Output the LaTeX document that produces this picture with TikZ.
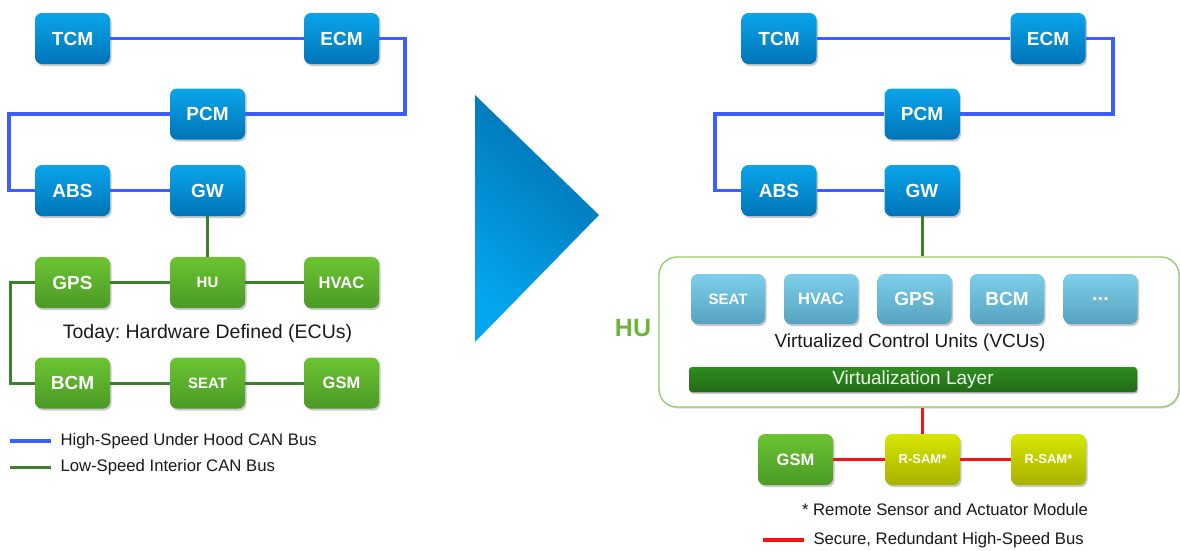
\documentclass[tikz,border=0pt]{standalone}
\usepackage{fontspec}
\setmainfont{Liberation Sans}
\usetikzlibrary{shadows}
\frenchspacing

\definecolor{blueTop}{HTML}{0AA5EA}
\definecolor{blueBot}{HTML}{0074B8}
\definecolor{greenTop}{HTML}{6CC431}
\definecolor{greenBot}{HTML}{4A9A26}
\definecolor{vcuTop}{HTML}{7CCFEA}
\definecolor{vcuBot}{HTML}{57A3C0}
\definecolor{samTop}{HTML}{D8E600}
\definecolor{samBot}{HTML}{A6B200}
\definecolor{layerTop}{HTML}{2F8C20}
\definecolor{layerBot}{HTML}{226A16}
\definecolor{busBlue}{HTML}{3D5EFF}
\definecolor{busGreen}{HTML}{3C7F2C}
\definecolor{busRed}{HTML}{FF1010}
\definecolor{huGreen}{HTML}{6DB43C}
\definecolor{huFrame}{HTML}{92CC6C}
\definecolor{triDark}{HTML}{0070B0}
\definecolor{triLight}{HTML}{04A6EE}

\tikzset{
  unit/.style={rounded corners=7pt, minimum width=75pt, minimum height=51pt,
    inner sep=0pt, text=white, font=\bfseries\fontsize{19}{20}\selectfont,
    drop shadow={shadow xshift=1.5pt, shadow yshift=-2pt, opacity=0.3, fill=black!70}},
  small/.style={font=\bfseries\fontsize{15}{16}\selectfont},
  mid/.style={font=\bfseries\fontsize{16.5}{17}\selectfont},
  tiny/.style={font=\bfseries\fontsize{13}{14}\selectfont},
  ecublue/.style={unit, top color=blueTop, bottom color=blueBot},
  ecugreen/.style={unit, top color=greenTop, bottom color=greenBot},
  vcu/.style={unit, minimum width=74pt, minimum height=50pt, top color=vcuTop, bottom color=vcuBot},
  rsam/.style={unit, tiny, top color=samTop, bottom color=samBot},
  hsbus/.style={draw=busBlue, line width=3.5pt},
  lsbus/.style={draw=busGreen, line width=3pt},
  secbus/.style={draw=busRed, line width=3.5pt},
  caption/.style={font=\fontsize{19.5}{21}\selectfont, text=black!90},
  legend/.style={font=\fontsize{16.7}{18}\selectfont, text=black!90, anchor=west},
}

\begin{document}
\begin{tikzpicture}[x=1pt, y=-1pt]
\useasboundingbox (0,0) rectangle (1180,550);

% ---------------- today: hardware-defined ECUs ----------------
\node[ecublue] (lTCM) at (72.5,38.5) {TCM};
\node[ecublue] (lECM) at (341.5,38.5) {ECM};
\node[ecublue] (lPCM) at (207.5,114) {PCM};
\node[ecublue] (lABS) at (72.5,190.5) {ABS};
\node[ecublue] (lGW)  at (207.5,190.5) {GW};

\node[ecugreen] (lGPS)  at (72.5,282.5) {GPS};
\node[ecugreen, small] (lHU) at (207.5,282.5) {HU};
\node[ecugreen, mid] (lHVAC) at (341.5,282.5) {HVAC};
\node[ecugreen] (lBCM)  at (72.5,383) {BCM};
\node[ecugreen, small] (lSEAT) at (207.5,383) {SEAT};
\node[ecugreen, mid] (lGSM) at (341.5,383) {GSM};

\coordinate (lbusR) at (405,114);
\coordinate (lbusL) at (9,114);
\coordinate (lgL) at (10,282.5);

\draw[hsbus] (lTCM.east) -- (lECM.west);
\draw[hsbus] (lECM.east) -- (lECM.east -| lbusR) -- (lbusR) -- (lPCM.east);
\draw[hsbus] (lPCM.west) -- (lbusL) |- (lABS.west);
\draw[hsbus] (lABS.east) -- (lGW.west);

\draw[lsbus] (lGW.south) -- (lHU.north);
\draw[lsbus] (lGPS.east) -- (lHU.west);
\draw[lsbus] (lHU.east) -- (lHVAC.west);
\draw[lsbus] (lGPS.west) -- (lgL) |- (lBCM.west);
\draw[lsbus] (lBCM.east) -- (lSEAT.west);
\draw[lsbus] (lSEAT.east) -- (lGSM.west);

\node[caption] (lcap) at (207.5,333) {Today: Hardware Defined (ECUs)};

\coordinate (lk1a) at (10,441);
\coordinate (lk1b) at (51,441);
\coordinate (lk2a) at (10,467);
\coordinate (lk2b) at (51,467);
\draw[hsbus] (lk1a) -- (lk1b);
\draw[lsbus] (lk2a) -- (lk2b);
\node[legend] (lkey1) at (57,441) {High-Speed Under Hood CAN Bus};
\node[legend] (lkey2) at (57,467) {Low-Speed Interior CAN Bus};

% ---------------- transition arrow ----------------
\shade[top color=triDark, bottom color=triLight, shading angle=-40]
  (475,95) -- (599,215) -- (475,342) -- cycle;

% ---------------- virtualised architecture ----------------
\node[ecublue] (rTCM) at (779,38.5) {TCM};
\node[ecublue] (rECM) at (1048,38.5) {ECM};
\node[ecublue] (rPCM) at (922,114) {PCM};
\node[ecublue] (rABS) at (779,190.5) {ABS};
\node[ecublue] (rGW)  at (922,190.5) {GW};

\coordinate (rbusR) at (1113,114);
\coordinate (rbusL) at (715,114);

\draw[hsbus] (rTCM.east) -- (rECM.west);
\draw[hsbus] (rECM.east) -- (rECM.east -| rbusR) -- (rbusR) -- (rPCM.east);
\draw[hsbus] (rPCM.west) -- (rbusL) |- (rABS.west);
\draw[hsbus] (rABS.east) -- (rGW.west);

\node[draw=huFrame, line width=1.3pt, rounded corners=18pt, fill=white,
      minimum width=520pt, minimum height=150pt, inner sep=0pt,
      drop shadow={shadow xshift=1pt, shadow yshift=-1.5pt, opacity=0.15, fill=black}]
      (hubox) at (919,332) {};
\node[font=\bfseries\fontsize{25}{26}\selectfont, text=huGreen] (hulabel) at (633,328) {HU};

\draw[lsbus] (rGW.south) -- (rGW.south |- hubox.north);

\node[vcu, small] (vSEAT) at (728,299) {SEAT};
\node[vcu, mid] (vHVAC) at (821,299) {HVAC};
\node[vcu] (vGPS) at (914.5,299) {GPS};
\node[vcu] (vBCM) at (1007,299) {BCM};
\node[vcu, font=\bfseries\fontsize{20}{20}\selectfont] (vMore) at (1100.5,299) {...};

\node[caption, font=\fontsize{19}{20}\selectfont] (vcap) at (910,343) {Virtualized Control Units (VCUs)};

\node[rounded corners=3pt, top color=layerTop, bottom color=layerBot,
      minimum width=448pt, minimum height=25pt, inner sep=0pt,
      text=green!8!white, font=\fontsize{19}{20}\selectfont,
      drop shadow={shadow xshift=1pt, shadow yshift=-1.5pt, opacity=0.3, fill=black}]
      (vlayer) at (913,379.5) {Virtualization Layer};

\node[ecugreen, mid] (rGSM) at (795.5,459.5) {GSM};
\node[rsam] (rsamA) at (922.5,459.5) {R-SAM*};
\node[rsam] (rsamB) at (1048.5,459.5) {R-SAM*};

\draw[secbus] (rsamA.north |- hubox.south) -- (rsamA.north);
\draw[secbus] (rGSM.east) -- (rsamA.west);
\draw[secbus] (rsamA.east) -- (rsamB.west);

\node[legend, anchor=center] (rnote) at (945,510) {* Remote Sensor and Actuator Module};
\coordinate (rk1a) at (763,540);
\coordinate (rk1b) at (804,540);
\draw[secbus] (rk1a) -- (rk1b);
\node[legend] (rkey1) at (810,540) {Secure, Redundant High-Speed Bus};

\end{tikzpicture}
\end{document}
